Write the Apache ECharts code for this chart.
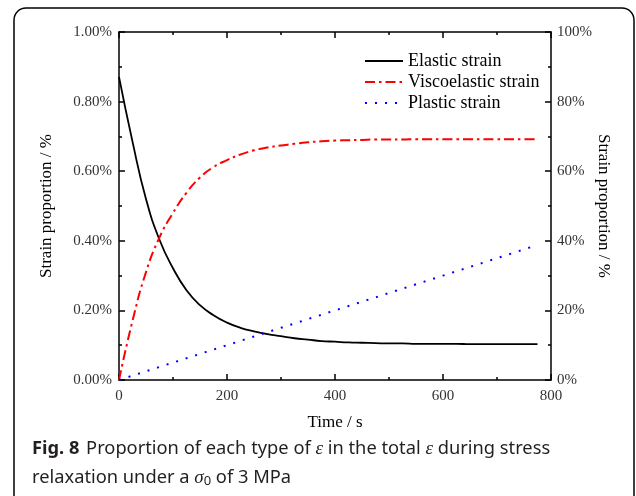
<!DOCTYPE html>
<html>
<head>
<meta charset="utf-8">
<script src="https://cdn.jsdelivr.net/npm/echarts@6/dist/echarts.min.js"></script>
<style>html,body{margin:0;padding:0;background:#fff}#c{width:636px;height:496px}</style>
</head>
<body>
<div id="c"></div>
<script>
// Data (time in s, strain proportion in %)
var curveTime = [0, 25, 50, 75, 100, 125, 150, 175, 200, 225, 250, 275, 300, 325, 350, 375, 400, 425, 450, 475, 500, 525, 550, 575, 600, 625, 650, 675, 700, 725, 750, 775];
var elasticValues = [0.871, 0.685, 0.52, 0.403, 0.321, 0.258, 0.215, 0.186, 0.165, 0.150, 0.140, 0.132, 0.126, 0.120, 0.116, 0.112, 0.110, 0.108, 0.107, 0.106, 0.105, 0.105, 0.104, 0.104, 0.104, 0.104, 0.103, 0.103, 0.103, 0.103, 0.103, 0.103];
var viscoValues = [0, 0.17, 0.31, 0.41, 0.48, 0.538, 0.582, 0.612, 0.632, 0.648, 0.660, 0.668, 0.674, 0.679, 0.683, 0.686, 0.688, 0.689, 0.690, 0.691, 0.691, 0.691, 0.692, 0.692, 0.692, 0.692, 0.692, 0.692, 0.692, 0.692, 0.692, 0.692];
var plasticTime = [0, 100, 200, 300, 400, 500, 600, 700, 775];
var plasticValues = [0, 0.05, 0.10, 0.15, 0.20, 0.25, 0.30, 0.35, 0.388];
var seriesNames = ['Elastic strain', 'Viscoelastic strain', 'Plastic strain'];
var xTicks = [0, 200, 400, 600, 800];
var leftTicks = ['0.00%', '0.20%', '0.40%', '0.60%', '0.80%', '1.00%'];
var rightTicks = ['0%', '20%', '40%', '60%', '80%', '100%'];

function pairs(t, v) { return t.map(function (x, i) { return [x, v[i]]; }); }

var serif = 'Liberation Serif';
var axisLineStyle = { color: '#000', width: 1.5 };
function axisCommon() {
  return {
    axisLine: { show: true, onZero: false, lineStyle: axisLineStyle },
    axisTick: { show: true, inside: true, length: 6, lineStyle: axisLineStyle },
    minorTick: { show: true, splitNumber: 2, length: 3, lineStyle: { color: '#000', width: 1.5 } },
    splitLine: { show: false }
  };
}
var chart = echarts.init(document.getElementById('c'));
chart.setOption({
  animation: false,
  backgroundColor: '#fff',
  grid: { left: 119, right: 85, top: 32, bottom: 116 },
  legend: {
    orient: 'vertical', left: 359, top: 47,
    itemWidth: 38, itemHeight: 14, itemGap: 3,
    data: seriesNames,
    itemStyle: { opacity: 0 },
    textStyle: { fontFamily: serif, fontSize: 18, color: '#000' }
  },
  xAxis: [Object.assign(axisCommon(), {
    type: 'value', min: 0, max: 800, interval: 200,
    name: 'Time / s', nameLocation: 'middle', nameGap: 34,
    nameTextStyle: { fontFamily: serif, fontSize: 17, color: '#000' },
    axisLabel: { fontFamily: serif, fontSize: 15, color: '#333', margin: 9, formatter: function (v) { return xTicks.indexOf(v) >= 0 ? String(v) : ''; } }
  }), Object.assign(axisCommon(), {
    type: 'value', position: 'top', min: 0, max: 800, interval: 200,
    axisLabel: { show: false }
  })],
  yAxis: [Object.assign(axisCommon(), {
    type: 'value', min: 0, max: 1, interval: 0.2,
    name: 'Strain proportion / %', nameLocation: 'middle', nameGap: 64,
    nameTextStyle: { fontFamily: serif, fontSize: 17, color: '#000' },
    axisLabel: { fontFamily: serif, fontSize: 15, color: '#333', margin: 7, formatter: function (v) { return leftTicks[Math.round(v / 0.2)]; } }
  }), Object.assign(axisCommon(), {
    type: 'value', position: 'right', min: 0, max: 100, interval: 20,
    name: 'Strain proportion / %', nameLocation: 'middle', nameGap: 44, nameRotate: -90, nameMoveOverlap: false,
    nameTextStyle: { fontFamily: serif, fontSize: 17, color: '#000' },
    axisLabel: { fontFamily: serif, fontSize: 15, color: '#333', margin: 6, formatter: function (v) { return rightTicks[Math.round(v / 20)]; } }
  })],
  series: [{
    name: seriesNames[0], type: 'line', xAxisIndex: 0, yAxisIndex: 0, showSymbol: false, symbol: 'none', smooth: 0.5,
    data: pairs(curveTime, elasticValues),
    lineStyle: { color: '#000', width: 1.8 }, itemStyle: { color: '#000' }
  }, {
    name: seriesNames[1], type: 'line', xAxisIndex: 0, yAxisIndex: 0, showSymbol: false, symbol: 'none', smooth: 0.5,
    data: pairs(curveTime, viscoValues),
    lineStyle: { color: '#ff0000', width: 2, type: [10, 4, 2.5, 4] }, itemStyle: { color: '#ff0000' }
  }, {
    name: seriesNames[2], type: 'line', xAxisIndex: 0, yAxisIndex: 0, showSymbol: false, symbol: 'none',
    data: pairs(plasticTime, plasticValues),
    lineStyle: { color: '#0000ff', width: 2, type: [2, 8] }, itemStyle: { color: '#0000ff' }
  }],
  graphic: [{
    type: 'rect', shape: { x: 14, y: 8, width: 620, height: 500, r: 12 },
    style: { fill: 'none', stroke: '#000', lineWidth: 1.5 }, silent: true
  }, {
    type: 'text', left: 32, top: 439,
    style: {
      text: '{b|Fig. 8}  {n|Proportion of each type of }{e|ε}{n| in the total }{e|ε}{n| during stress}\n{n|relaxation under a }{e|σ}{s|0}{n| of 3 MPa}',
      rich: {
        b: { fontFamily: 'Noto Sans', fontWeight: 'bold', fontSize: 18.3, fill: '#231f20', lineHeight: 29 },
        n: { fontFamily: 'Noto Sans', fontSize: 18.3, fill: '#231f20', lineHeight: 29 },
        e: { fontFamily: serif, fontStyle: 'italic', fontSize: 19, fill: '#231f20', lineHeight: 29 },
        s: { fontFamily: 'Noto Sans', fontSize: 13, fill: '#231f20', lineHeight: 29, padding: [8, 0, 0, 0] }
      }
    }
  }]
});
</script>
</body>
</html>
